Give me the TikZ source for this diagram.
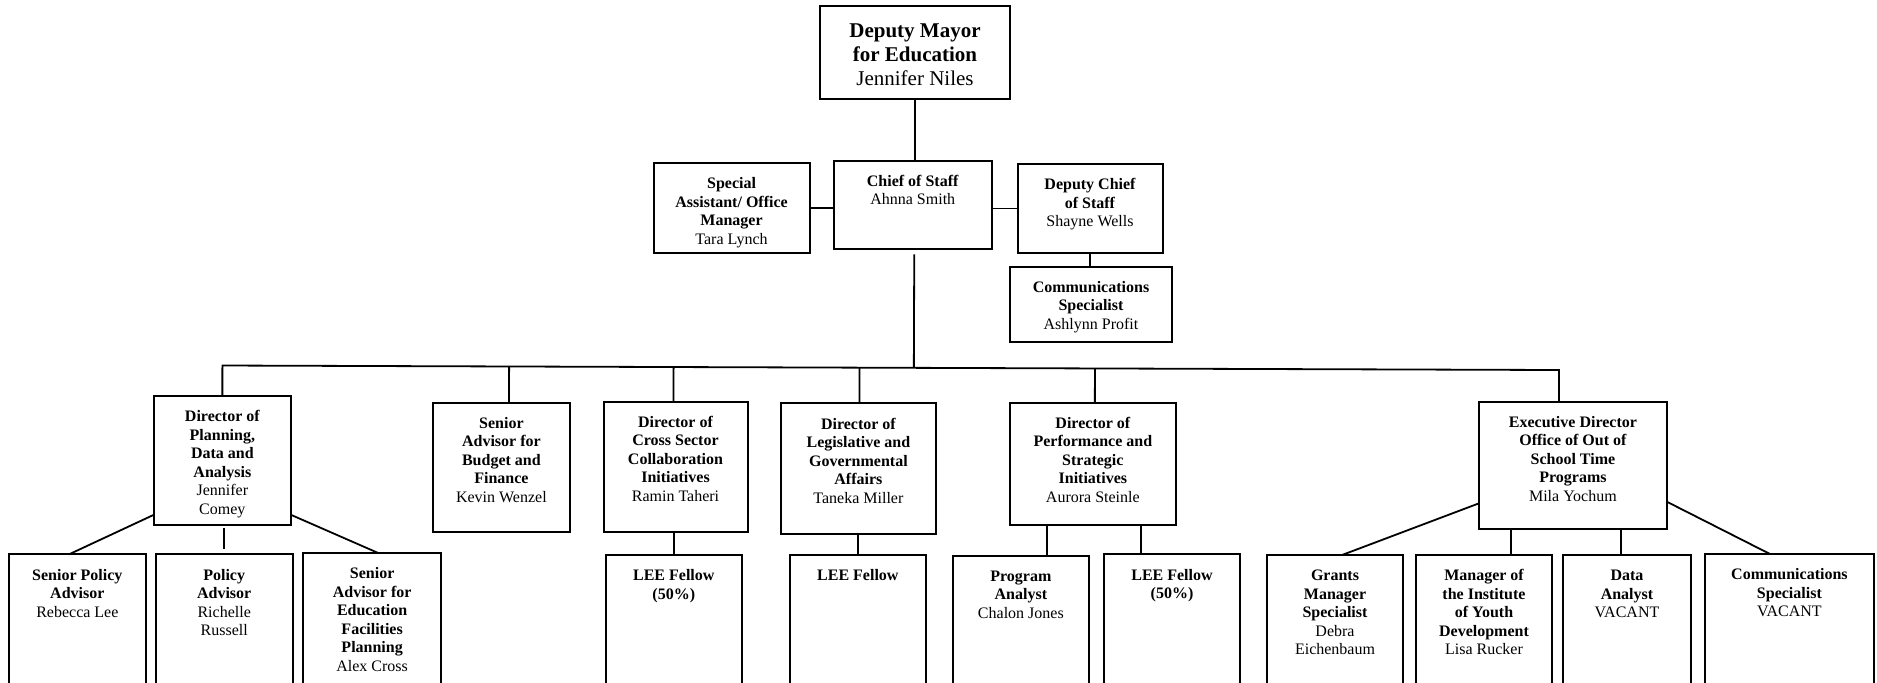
\documentclass[tikz,border=0pt]{standalone}
\usepackage{fontspec}
\setmainfont{Liberation Serif}
\usetikzlibrary{calc}
\tikzset{
  orgbox/.style={draw, line width=1pt, rectangle, inner sep=0pt, outer sep=0pt, fill=white},
  link/.style={line width=0.9pt},
}
\newcommand\orgnode[7][12.85pt]{%
  \pgfmathsetlengthmacro\obw{(#5-#3)*0.5pt}%
  \pgfmathsetlengthmacro\obh{(#6-#4)*0.5pt}%
  \node[orgbox] (#2) at ({(#3+#5)/2},{(#4+#6)/2})
    {\parbox[c][\obh][t]{\obw}{\centering\fontsize{8}{9.25}\selectfont\rule{0pt}{#1}#7}};
}
\begin{document}
\begin{tikzpicture}[x=0.5pt,y=-0.5pt]
\useasboundingbox (0,0) rectangle (1877,682);
\fill[white] (0,0) rectangle (1877,682);
\clip (0,0) rectangle (1877,682);
% top level
\orgnode[15.5pt]{dm}{820}{6}{1010}{98.5}{\fontsize{10.5}{12.15}\selectfont\textbf{Deputy Mayor\\for Education}\\Jennifer Niles}
\orgnode{sa}{653.6}{163}{809.5}{252.6}{\textbf{Special\\Assistant/ Office\\Manager}\\Tara Lynch}
\orgnode{cos}{834}{160.7}{991.5}{249.3}{\textbf{Chief of Staff}\\Ahnna Smith}
\orgnode{dcos}{1017.5}{164}{1162.5}{253}{\textbf{Deputy Chief\\of Staff}\\Shayne Wells}
\orgnode{comm}{1010}{266.7}{1172}{342.3}{\textbf{Communications\\Specialist}\\Ashlynn Profit}
% middle row
\orgnode{dpa}{154}{396}{290.7}{525.3}{\textbf{Director of\\Planning,\\Data and\\Analysis}\\Jennifer\\Comey}
\orgnode{sab}{433}{402.7}{569.8}{531.7}{\textbf{Senior\\Advisor for\\Budget and\\Finance}\\Kevin Wenzel}
\orgnode{cs}{603.5}{401.7}{747.5}{531.7}{\textbf{Director of\\Cross Sector\\Collaboration\\Initiatives}\\Ramin Taheri}
\orgnode{leg}{781}{403.3}{935.8}{533.7}{\textbf{Director of\\Legislative and\\Governmental\\Affairs}\\Taneka Miller}
\orgnode{perf}{1009.7}{402.7}{1176}{525.3}{\textbf{Director of\\Performance and\\Strategic\\Initiatives}\\Aurora Steinle}
\orgnode{exe}{1479}{401.7}{1666.8}{529}{\textbf{Executive Director\\Office of Out of\\School Time\\Programs}\\Mila Yochum}
% bottom row
\orgnode{spa}{8.7}{554.3}{146}{692}{\textbf{Senior Policy\\Advisor}\\Rebecca Lee}
\orgnode{pa}{155.7}{554.3}{292.7}{692}{\textbf{Policy\\Advisor}\\Richelle\\Russell}
\orgnode{saef}{303.3}{553}{441}{692}{\textbf{Senior\\Advisor for\\Education\\Facilities\\Planning}\\Alex Cross}
\orgnode{lee1}{605.6}{555}{742}{692}{\textbf{LEE Fellow\\(50\%)}}
\orgnode{lee2}{789.5}{555}{926.2}{692}{\textbf{LEE Fellow}}
\orgnode{pan}{952.7}{555.7}{1089}{692}{\textbf{Program\\Analyst}\\Chalon Jones}
\orgnode{lee3}{1104}{554.3}{1240}{692}{\textbf{LEE Fellow\\(50\%)}}
\orgnode{gms}{1266.8}{555}{1403.2}{692}{\textbf{Grants\\Manager\\Specialist}\\Debra\\Eichenbaum}
\orgnode{mgr}{1416}{555}{1552}{692}{\textbf{Manager of\\the Institute\\of Youth\\Development}\\Lisa Rucker}
\orgnode{da}{1563}{555}{1691}{692}{\textbf{Data\\Analyst}\\VACANT}
\orgnode{cv}{1704.8}{554}{1874}{692}{\textbf{Communications\\Specialist}\\VACANT}
% top connectors
\draw[link] (dm.south) -- (dm.south |- cos.north);
\draw[link] (sa.east) -- (sa.east -| cos.west);
\draw[link] (dcos.west) -- (dcos.west -| cos.east);
\draw[link] (dcos.south) -- (dcos.south |- comm.north);
% bus
\coordinate (busL) at (222.4,365.5);
\coordinate (busR) at (1559,370);
\coordinate (cosd) at ($(cos.south)+(1.5,5)$);
\draw[link] (cosd) -- ($(busL)!(cosd)!(busR)$);
\draw[link] (dpa.north) -- (busL) -- (busR) -- (busR |- exe.north);
\coordinate (d1) at ($(sab.north)+(7.6,0)$);
\coordinate (d2) at ($(cs.north)+(-2,0)$);
\coordinate (d3) at ($(leg.north)+(1,0)$);
\coordinate (d4) at ($(perf.north)+(2,0)$);
\draw[link] (d1) -- ($(busL)!(d1)!(busR)$);
\draw[link] (d2) -- ($(busL)!(d2)!(busR)$);
\draw[link] (d3) -- ($(busL)!(d3)!(busR)$);
\draw[link] (d4) -- ($(busL)!(d4)!(busR)$);
% planning children
\draw[link] ($(dpa.south west)+(0,-10.6)$) -- ($(spa.north)+(-8.3,0)$);
\coordinate (p1) at ($(dpa.south -| pa.north)+(0,2.4)$);
\draw[link] (p1) -- ($(pa.north)+(0,-5)$);
\draw[link] ($(dpa.south east)+(0,-10.6)$) -- ($(saef.north)+(6.1,0)$);
% LEE fellows
\draw[link] (lee1.north) -- (lee1.north |- cs.south);
\draw[link] (lee2.north) -- (lee2.north |- leg.south);
% performance children
\coordinate (pf1) at ($(perf.south)+(-46.2,0)$);
\coordinate (pf2) at ($(perf.south)+(47.8,0)$);
\draw[link] (pf1) -- (pf1 |- pan.north);
\draw[link] (pf2) -- (pf2 |- lee3.north);
% executive children
\draw[link] ($(exe.south west)+(0,-25.7)$) -- ($(gms.north)+(7,0)$);
\coordinate (ex1) at ($(exe.south)+(-62.1,0)$);
\coordinate (ex2) at ($(exe.south)+(47.9,0)$);
\draw[link] (ex1) -- (ex1 |- mgr.north);
\draw[link] (ex2) -- (ex2 |- da.north);
\draw[link] ($(exe.south east)+(0,-27.3)$) -- ($(cv.north)+(-19.4,0)$);
\end{tikzpicture}
\end{document}
